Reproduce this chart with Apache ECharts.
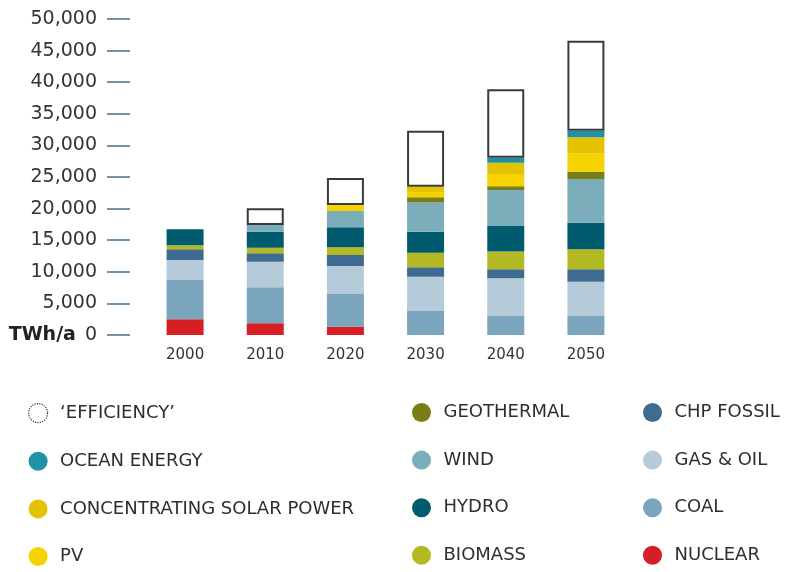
<!DOCTYPE html>
<html>
<head>
<meta charset="utf-8">
<script src="https://cdn.jsdelivr.net/npm/echarts@6/dist/echarts.min.js"></script>
<style>
  html, body { margin: 0; padding: 0; background: #fff; }
  #chart { width: 789px; height: 572px; }
</style>
</head>
<body>
<div id="chart"></div>
<script>
// years on the x axis
const years = ['2000', '2010', '2020', '2030', '2040', '2050'];

// TWh/a, bottom of the stack first
const nuclear    = [2480, 1850, 1310, 0, 0, 0];
const coal       = [6220, 5700, 5180, 3800, 3010, 3010];
const gasOil     = [3170, 4050, 4430, 5420, 5960, 5420];
const chpFossil  = [1690, 1330, 1740, 1490, 1430, 1970];
const biomass    = [630, 880, 1220, 2310, 2810, 3160];
const hydro      = [2530, 2530, 3160, 3320, 4040, 4210];
const wind       = [0, 1070, 2580, 4630, 5690, 6910];
const geothermal = [0, 0, 0, 820, 590, 1160];
const pv         = [0, 0, 950, 840, 1940, 2910];
const csp        = [0, 0, 0, 840, 1790, 2530];
const ocean      = [0, 0, 0, 0, 790, 1050];
const efficiency = [null, 2640, 4270, 8860, 10830, 14240];

const yTicks = { min: 0, max: 50000, step: 5000 };

const FONT = 'DejaVu Sans';

const seriesDefs = [
  { name: 'NUCLEAR', data: nuclear, color: '#d81e25' },
  { name: 'COAL', data: coal, color: '#7aa5bc' },
  { name: 'GAS & OIL', data: gasOil, color: '#b6cbd9' },
  { name: 'CHP FOSSIL', data: chpFossil, color: '#3e6b8f' },
  { name: 'BIOMASS', data: biomass, color: '#b2b922' },
  { name: 'HYDRO', data: hydro, color: '#005b6f' },
  { name: 'WIND', data: wind, color: '#7badba' },
  { name: 'GEOTHERMAL', data: geothermal, color: '#7a7e16' },
  { name: 'PV', data: pv, color: '#f6d300' },
  { name: 'CONCENTRATING SOLAR POWER', data: csp, color: '#e3c200' },
  { name: 'OCEAN ENERGY', data: ocean, color: '#1e92a6' },
  { name: '‘EFFICIENCY’', data: efficiency, color: '#ffffff', border: '#3a3a3a' }
];

const series = seriesDefs.map(s => ({
  name: s.name,
  type: 'bar',
  stack: 'total',
  barWidth: 37,
  data: s.data,
  itemStyle: s.border
    ? { color: s.color, borderColor: s.border, borderWidth: 2 }
    : { color: s.color },
  emphasis: { disabled: true }
}));

const legendCols = [
  { left: 28, names: ['‘EFFICIENCY’', 'OCEAN ENERGY', 'CONCENTRATING SOLAR POWER', 'PV'] },
  { left: 412, names: ['GEOTHERMAL', 'WIND', 'HYDRO', 'BIOMASS'] },
  { left: 643, names: ['CHP FOSSIL', 'GAS & OIL', 'COAL', 'NUCLEAR'] }
];

const legend = legendCols.map(col => ({
  orient: 'vertical',
  left: col.left,
  top: 403,
  height: 165,
  padding: 0,
  itemGap: 28.6,
  itemWidth: 34,
  itemHeight: 19,
  icon: 'circle',
  selectedMode: false,
  textStyle: { fontFamily: FONT, fontSize: 18, color: '#2e2e2e' },
  data: col.names.map(n => n === '‘EFFICIENCY’'
    ? { name: n, itemStyle: { color: '#fff', borderColor: '#333', borderWidth: 1.2, borderType: 'dotted' } }
    : { name: n })
}));

const chart = echarts.init(document.getElementById('chart'), null, { renderer: 'canvas' });
chart.setOption({
  animation: false,
  backgroundColor: '#fff',
  legend: legend,
  grid: { left: 145, right: 163, top: 19, bottom: 237, containLabel: false },
  xAxis: {
    type: 'category',
    data: years,
    axisLine: { show: false },
    axisTick: { show: false },
    axisLabel: { fontFamily: FONT, fontSize: 15, color: '#333', margin: 13 }
  },
  yAxis: {
    type: 'value',
    min: yTicks.min,
    max: yTicks.max,
    interval: yTicks.step,
    offset: 15,
    axisLine: { show: false },
    axisTick: { show: true, length: 23, lineStyle: { color: '#7192ad', width: 2 } },
    splitLine: { show: false },
    axisLabel: {
      margin: 33,
      fontFamily: FONT,
      fontSize: 19,
      color: '#333',
      formatter: v => v === 0 ? '{u|TWh/a}0' : v.toLocaleString('en-US'),
      rich: {
        u: { fontFamily: FONT, fontSize: 19, fontWeight: 'bold', color: '#222', padding: [0, 9, 0, 0] }
      }
    }
  },
  series: series
});
</script>
</body>
</html>
